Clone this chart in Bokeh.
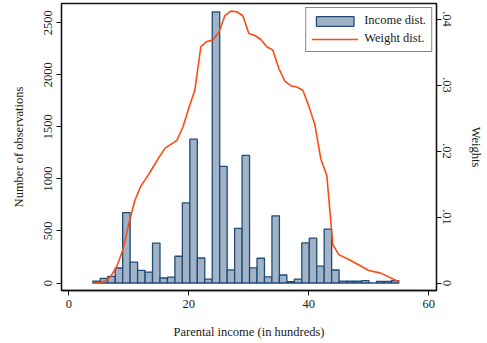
from bokeh.plotting import figure
from bokeh.models import Range1d, LinearAxis, FixedTicker, Legend, LegendItem
from bokeh.embed import file_html
from bokeh.resources import INLINE

# ---- data ----
income_counts = [19, 45, 64, 144, 677, 201, 121, 105, 383, 48,
                 57, 257, 770, 1382, 240, 37, 2605, 1121, 126, 525,
                 1226, 145, 238, 58, 645, 77, 12, 38, 385, 431,
                 162, 517, 125, 19, 17, 17, 22, 0, 15, 15, 22]
bin_start = 4.0
bin_end = 55.0

weight_x = [4, 5, 6, 7, 8, 9, 10, 11, 12, 13, 14, 15, 16, 17, 18, 19, 20,
            21, 22, 23, 24, 25, 26, 27, 28, 29, 30, 31, 32, 33, 34, 35, 36,
            37, 38, 39, 40, 41, 42, 43, 44, 45, 47, 50, 52, 55]
weight_w = [0.0000, 0.0000, 0.0003, 0.0010, 0.0025, 0.0050, 0.0090, 0.0125,
            0.0147, 0.0160, 0.0175, 0.0190, 0.0204, 0.0210, 0.0216, 0.0236,
            0.0265, 0.0292, 0.0358, 0.0366, 0.0368, 0.0380, 0.0405, 0.0412,
            0.0411, 0.0405, 0.0378, 0.0375, 0.0369, 0.0358, 0.0353, 0.0325,
            0.0306, 0.0299, 0.0297, 0.0292, 0.0268, 0.0240, 0.0188, 0.0163,
            0.0058, 0.0043, 0.0034, 0.0019, 0.0015, 0.0002]

x_ticks = [0, 20, 40, 60]
left_ticks = [0, 500, 1000, 1500, 2000, 2500]
right_ticks = [0, 0.01, 0.02, 0.03, 0.04]
right_tick_labels = ["0", ".01", ".02", ".03", ".04"]

x_label = "Parental income (in hundreds)"
left_label = "Number of observations"
right_label = "Weights"
legend_labels = ["Income dist.", "Weight dist."]

# ---- build ----
FONT = "Liberation Serif"
FS = "12.5px"
TXT = "#1a1a1a"

n_bins = len(income_counts)
bw = (bin_end - bin_start) / n_bins
lefts = [bin_start + i * bw for i in range(n_bins)]
rights = [l + bw for l in lefts]

p = figure(frame_width=375, frame_height=287,
           min_border_left=61, min_border_right=50, min_border_top=3, min_border_bottom=52,
           x_range=Range1d(-1.22, 61.28), y_range=Range1d(-72, 2685),
           output_backend="svg", toolbar_location=None, background_fill_color="white",
           border_fill_color="white")
p.extra_y_ranges = {"w": Range1d(-0.001136, 0.04235)}

p.xgrid.visible = False
p.ygrid.visible = False
p.outline_line_color = "#111111"
p.outline_line_width = 1.3

bars = p.quad(left=lefts, right=rights, bottom=0, top=income_counts,
              fill_color="#a2b3c7", line_color="#1f4b75", line_width=1.3)
line = p.line(weight_x, weight_w, y_range_name="w", line_color="#ff4a14", line_width=1.6)

def style_axis(ax, ticks):
    ax.ticker = FixedTicker(ticks=ticks)
    ax.minor_tick_line_color = None
    ax.major_tick_in = 0
    ax.major_tick_out = 5
    ax.major_tick_line_color = "#111111"
    ax.axis_line_color = "#111111"
    ax.axis_line_width = 1.3
    ax.major_label_text_font = FONT
    ax.major_label_text_font_size = FS
    ax.major_label_text_color = TXT
    ax.axis_label_text_font = FONT
    ax.axis_label_text_font_size = FS
    ax.axis_label_text_font_style = "normal"
    ax.axis_label_text_color = TXT

xa = p.xaxis[0]
style_axis(xa, x_ticks)
xa.axis_label = x_label
xa.major_label_standoff = 4
xa.axis_label_standoff = 14

ya = p.yaxis[0]
style_axis(ya, left_ticks)
ya.axis_label = left_label
ya.major_label_orientation = "vertical"
ya.major_label_standoff = 4
ya.axis_label_standoff = 16

ra = LinearAxis(y_range_name="w")
style_axis(ra, right_ticks)
ra.major_label_overrides = {t: s for t, s in zip(right_ticks, right_tick_labels)}
ra.axis_label = right_label
ra.major_label_orientation = "vertical"
ra.axis_label_orientation = "vertical"
ra.major_label_standoff = 1
ra.axis_label_standoff = 15
p.add_layout(ra, "right")

legend = Legend(items=[LegendItem(label=legend_labels[0], renderers=[bars]),
                       LegendItem(label=legend_labels[1], renderers=[line])],
                location="top_right", margin=4, padding=5, spacing=3,
                glyph_width=47, glyph_height=12, label_height=14, label_standoff=6,
                label_text_font=FONT, label_text_font_size=FS, label_text_color=TXT,
                border_line_color="#111111", border_line_width=1.3,
                background_fill_color="white", background_fill_alpha=1.0)
p.add_layout(legend)

open("out.html", "w").write(file_html(p, INLINE))
